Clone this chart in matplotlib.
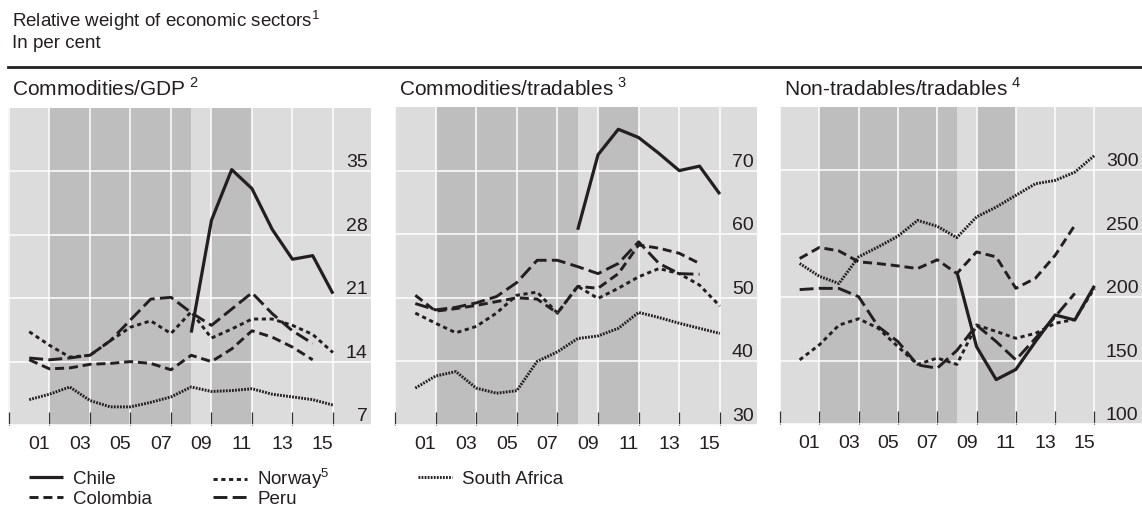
import numpy as np
import matplotlib.pyplot as plt
from matplotlib.lines import Line2D
from matplotlib.transforms import blended_transform_factory

plt.rcParams['font.family'] = ['Liberation Sans', 'DejaVu Sans']
plt.rcParams['mathtext.fontset'] = 'custom'
plt.rcParams['mathtext.rm'] = 'Liberation Sans'
plt.rcParams['lines.scale_dashes'] = False

INK = '#231f20'
LIGHT = '#dcdcdd'
DARK = '#bebebf'

# data years; each value is plotted at the end of its year
years = np.arange(2000, 2016)
chile_years = np.arange(2008, 2016)
short_years = np.arange(2000, 2015)  # Colombia, Peru

# Commodities/GDP
gdp_chile = [17.2, 29.6, 35.2, 33.1, 28.6, 25.3, 25.7, 21.5]
gdp_colombia = [14.2, 13.2, 13.3, 13.7, 13.8, 14.0, 13.8, 13.1, 14.7, 14.0, 15.4, 17.4, 16.7, 15.6, 14.2]
gdp_norway = [17.3, 15.8, 14.5, 14.7, 16.3, 17.8, 18.5, 17.1, 19.5, 16.6, 17.6, 18.7, 18.7, 18.0, 17.0, 15.0]
gdp_peru = [14.4, 14.2, 14.4, 14.7, 16.3, 18.6, 20.9, 21.1, 19.4, 18.0, 19.8, 21.6, 19.3, 17.4, 16.0]
gdp_safrica = [9.8, 10.4, 11.2, 9.7, 9.0, 9.0, 9.5, 10.1, 11.2, 10.7, 10.8, 11.0, 10.4, 10.1, 9.8, 9.2]

# Commodities/tradables
trd_chile = [60.7, 72.5, 76.5, 75.2, 72.7, 70.0, 70.7, 66.3]
trd_colombia = [50.4, 47.9, 48.3, 48.8, 49.4, 50.0, 49.8, 47.6, 51.8, 51.5, 53.8, 58.3, 57.8, 57.0, 55.4]
trd_norway = [47.6, 46.0, 44.5, 45.5, 47.6, 50.4, 50.9, 47.6, 51.8, 49.9, 51.5, 53.3, 54.6, 53.8, 52.0, 48.7]
trd_peru = [49.1, 48.1, 48.5, 49.2, 50.2, 52.4, 55.9, 55.9, 54.9, 53.8, 55.4, 58.8, 55.4, 53.8, 53.7]
trd_safrica = [35.8, 37.7, 38.4, 35.8, 35.0, 35.4, 40.0, 41.5, 43.6, 44.0, 45.2, 47.7, 46.9, 46.0, 45.2, 44.4]

# Non-tradables/tradables
ntr_chile = [220, 161, 135, 143, 165, 186, 182, 209]
ntr_colombia = [230.5, 239.2, 236.5, 227.9, 226.5, 224.7, 222.6, 229.5, 218.7, 235.7, 231.8, 207, 215, 233, 256.7]
ntr_norway = [150.6, 162.4, 178, 183, 175.5, 161, 147, 152, 147, 178, 173, 167.6, 171.5, 179.4, 182.5, 207]
ntr_peru = [206, 207, 206.9, 200.4, 176.8, 165, 146.6, 144, 158, 178, 165, 150.6, 167.6, 184.6, 203]
ntr_safrica = [226.6, 216.5, 210.8, 231.8, 239.7, 248.1, 260.6, 255.9, 247, 263.3, 271.1, 280.3, 289.5, 292.1, 298.6, 311.7]

panel_titles = ["Commodities/GDP$^\\mathregular{\\ 2}$",
                "Commodities/tradables$^\\mathregular{\\ 3}$",
                "Non-tradables/tradables$^\\mathregular{\\ 4}$"]
panel_yticks = [[7, 14, 21, 28, 35], [30, 40, 50, 60, 70], [100, 150, 200, 250, 300]]
panel_ylim = [(7, 42), (30, 80), (100, 350)]
panel_xmax = [2017.88, 2017.83, 2018.42]
xtick_years = np.arange(2001, 2016, 2)
xtick_labels = [f"{y % 100:02d}" for y in xtick_years]
dark_spans = [(2002, 2009), (2010, 2012)]

styles = {
    'Chile': dict(linestyle='-', lw=2.3),
    'Colombia': dict(dashes=(6.5, 3.5), lw=2.1),
    'Norway': dict(dashes=(3.0, 2.6), lw=2.1),
    'Peru': dict(dashes=(10.0, 3.8), lw=2.1),
    'South Africa': dict(dashes=(1.3, 0.9), lw=2.1),
}

panels = [
    {'Chile': gdp_chile, 'Colombia': gdp_colombia, 'Norway': gdp_norway, 'Peru': gdp_peru, 'South Africa': gdp_safrica},
    {'Chile': trd_chile, 'Colombia': trd_colombia, 'Norway': trd_norway, 'Peru': trd_peru, 'South Africa': trd_safrica},
    {'Chile': ntr_chile, 'Colombia': ntr_colombia, 'Norway': ntr_norway, 'Peru': ntr_peru, 'South Africa': ntr_safrica},
]
series_years = {'Chile': chile_years, 'Colombia': short_years, 'Norway': years,
                'Peru': short_years, 'South Africa': years}

W, H = 1142, 511
fig = plt.figure(figsize=(W / 100, H / 100), dpi=100)

# panel boxes in pixels: left, top, right, bottom
boxes = [(8, 108, 371, 425), (395, 107, 757, 425), (780, 107, 1142, 424)]

for i, (box, data) in enumerate(zip(boxes, panels)):
    l, t, r, b = box
    ax = fig.add_axes([l / W, 1 - b / H, (r - l) / W, (b - t) / H])
    ax.set_facecolor(LIGHT)
    for s, e in dark_spans:
        ax.axvspan(s, e, color=DARK, lw=0, zorder=0)

    for name, vals in data.items():
        ax.plot(series_years[name] + 1, vals, color=INK, zorder=3,
                solid_capstyle='butt', dash_capstyle='butt', **styles[name])

    ax.set_xlim(2000 - 1 / 20.25 if i == 0 else 2000, panel_xmax[i])
    ax.set_ylim(*panel_ylim[i])

    ax.set_xticks(xtick_years + 0.5)
    ax.set_xticklabels(xtick_labels, fontsize=14, color=INK)
    ax.set_xticks(np.arange(2000, 2017, 2), minor=True)
    ax.tick_params(axis='x', which='major', length=0, pad=8)
    ax.tick_params(axis='x', which='minor', direction='in', length=9.5,
                   width=0.9, color='#333333')
    ax.set_yticks(panel_yticks[i])
    ax.tick_params(axis='y', length=0, labelleft=False)
    ax.set_axisbelow(True)
    ax.grid(axis='y', color='white', lw=1.1)
    ax.grid(axis='x', which='minor', color='white', lw=1.1)
    for sp in ax.spines.values():
        sp.set_visible(False)

    trans = blended_transform_factory(ax.transAxes, ax.transData)
    dx = 3.5 / (r - l)
    for v in panel_yticks[i]:
        ax.text(1 - dx, v, str(v), transform=trans, ha='right', va='bottom',
                fontsize=14, color=INK)

    fig.text((l + 4) / W, 1 - 96 / H, panel_titles[i], fontsize=15,
             color=INK, va='baseline', ha='left')

fig.text(12 / W, 1 - 27 / H, "Relative weight of economic sectors$^\\mathregular{1}$",
         fontsize=13.5, color=INK, va='baseline')
fig.text(12 / W, 1 - 48 / H, "In per cent", fontsize=13.5, color=INK, va='baseline')
fig.add_artist(Line2D([8 / W, 1], [1 - 66.7 / H] * 2, transform=fig.transFigure,
                      color=INK, lw=2))


def handle(name):
    return Line2D([], [], color=INK, solid_capstyle='butt', dash_capstyle='butt', **styles[name])


# one legend per entry so the rows line up across columns
legend_entries = [
    ('Chile', 'Chile', 29, 479),
    ('Colombia', 'Colombia', 29, 499),
    ('Norway', 'Norway$^\\mathregular{5}$', 213, 479),
    ('Peru', 'Peru', 213, 499),
    ('South Africa', 'South Africa', 418, 479),
]
for name, label, x0, y0 in legend_entries:
    leg = fig.legend([handle(name)], [label], loc='center left',
                     bbox_to_anchor=(x0 / W, 1 - y0 / H), frameon=False,
                     fontsize=13.5, handlelength=1.8, handletextpad=0.55,
                     borderpad=0, borderaxespad=0)
    for txt in leg.get_texts():
        txt.set_color(INK)
        txt.set_va('baseline')

fig.savefig('out.png', dpi=100)
